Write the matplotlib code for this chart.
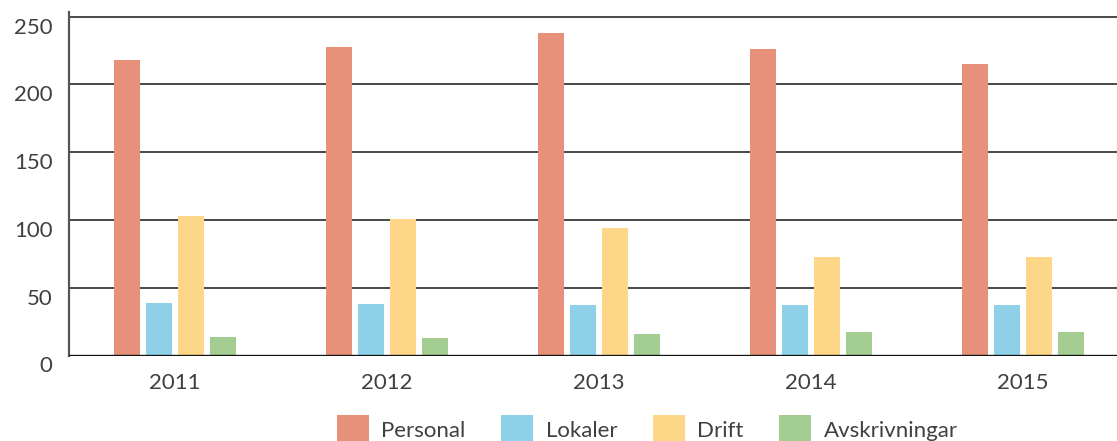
import matplotlib
matplotlib.use('Agg')
import matplotlib.pyplot as plt
import matplotlib.transforms as mtransforms
import numpy as np

years = ['2011', '2012', '2013', '2014', '2015']
personal = [218, 228, 238, 226, 215]
lokaler = [39, 38, 37, 37, 37]
drift = [103, 101, 94, 73, 73]
avskrivningar = [14, 13, 16, 17, 17]

series_names = ['Personal', 'Lokaler', 'Drift', 'Avskrivningar']
colors = ['#E7907A', '#8ED0E7', '#FDD688', '#A2CC90']

W, H = 1117, 441
plt.rcParams['font.family'] = ['Lato', 'DejaVu Sans']
fig = plt.figure(figsize=(W / 100, H / 100), dpi=100)
ax = fig.add_axes([68.5 / W, (H - 355.5) / H, 1060 / W, (355.5 - 11.7) / H])

x = np.arange(len(years))
pitch = 32 / 212
bw = 26 / 212
for i, (vals, col, name) in enumerate(zip([personal, lokaler, drift, avskrivningar], colors, series_names)):
    ax.bar(x + (i - 1.5) * pitch, vals, bw, color=col, label=name, zorder=3)

ax.set_xlim(-0.5, 4.5)
ax.set_ylim(0, 253.7)
ax.set_yticks([0, 50, 100, 150, 200, 250])
ax.set_xticks(x)
ax.set_xticklabels(years)

for y in [50, 100, 150, 200, 250]:
    ax.axhline(y, color='#3a3a3a', lw=1.3, zorder=1)
ax.axhline(0, color='#111111', lw=2.4, zorder=4)

for s in ['top', 'right', 'bottom']:
    ax.spines[s].set_visible(False)
ax.spines['left'].set_color('#555555')
ax.spines['left'].set_linewidth(1.6)

ax.tick_params(axis='both', length=0, labelsize=16, labelcolor='#404040')
ax.tick_params(axis='y', pad=11.5)
ax.tick_params(axis='x', pad=12.5)
off = mtransforms.ScaledTranslation(0, -9 / 100, fig.dpi_scale_trans)
for lbl in ax.get_yticklabels():
    lbl.set_transform(lbl.get_transform() + off)

leg = fig.legend(loc='center left', bbox_to_anchor=(337 / W, 1 - 430 / H), ncol=4,
                 frameon=False, prop={'size': 16},
                 handlelength=1.45, handleheight=1.7, handletextpad=0.55,
                 columnspacing=1.6, borderaxespad=0, borderpad=0)
for t in leg.get_texts():
    t.set_color('#404040')

fig.savefig('out.png', dpi=100)
